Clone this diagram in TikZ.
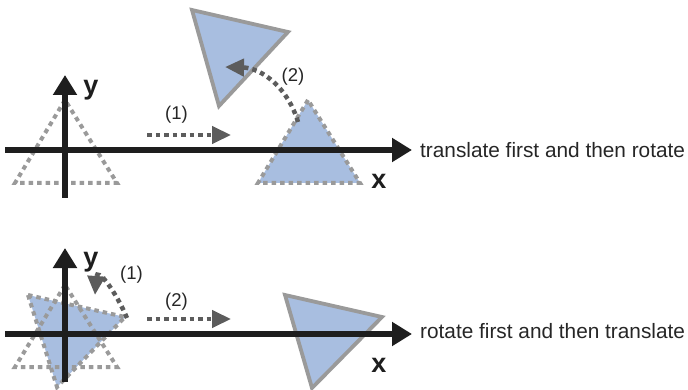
\documentclass[tikz,border=0pt]{standalone}
\usepackage{fontspec}
\setmainfont{Liberation Sans}
\usetikzlibrary{arrows.meta}
\definecolor{axisc}{HTML}{1E1E1E}
\definecolor{tribl}{HTML}{A8BEE0}
\definecolor{trigr}{HTML}{9A9A9A}
\definecolor{arrc}{HTML}{5C5C5C}
\definecolor{txtc}{HTML}{262626}
\begin{document}
\begin{tikzpicture}[x=1pt,y=-1pt,
  axisline/.style={draw=axisc,line width=5.5pt,-{Triangle[length=20pt,width=23pt]}},
  ghost/.style={draw=trigr,line width=4pt,dash pattern=on 4.5pt off 4pt,line join=miter},
  ghostblue/.style={ghost,fill=tribl},
  solidtri/.style={draw=trigr,line width=3.8pt,fill=tribl,line join=miter},
  movearrow/.style={draw=arrc,line width=4.5pt,dash pattern=on 4.5pt off 4pt,-{Triangle[length=19pt,width=17pt]}},
  axlabel/.style={font=\bfseries\fontsize{27}{30}\selectfont,text=axisc,inner sep=0pt},
  steplabel/.style={font=\fontsize{18.5}{20}\selectfont,text=txtc,inner sep=0pt},
  captionlabel/.style={font=\fontsize{20.8}{24}\selectfont,text=txtc,inner sep=0pt,anchor=base west}]

\useasboundingbox (0,0) rectangle (688,390);

% ---------- top: translate first and then rotate ----------
\draw[ghost] (65,100) -- (15,183) -- (117,183) -- cycle;
\draw[ghostblue] (308,100) -- (258,183) -- (360,183) -- cycle;
\draw[solidtri] (192,10) -- (288,32) -- (219,106) -- cycle;

\coordinate (ta1s) at (147,135);
\coordinate (ta1e) at (231,135);
\draw[movearrow] (ta1s) -- (ta1e);
\node[steplabel] (tl1) at (176.5,115) {(1)};

\coordinate (ta2s) at (298,122);
\coordinate (ta2e) at (225,67);
\draw[movearrow] (ta2s) .. controls (288,88) and (262,68) .. (ta2e);
\node[steplabel] (tl2) at (293,77) {(2)};

\coordinate (txs) at (5,150);
\coordinate (txe) at (412,150);
\coordinate (tys) at (65,198);
\coordinate (tye) at (65,75);
\draw[axisline] (txs) -- (txe);
\draw[axisline] (tys) -- (tye);
\node[axlabel] (ty) at (91,90) {y};
\node[axlabel] (tx) at (379,181) {x};
\node[captionlabel] (tcap) at (420,158) {translate first and then rotate};

% ---------- bottom: rotate first and then translate ----------
\draw[ghostblue] (28,295) -- (125,317) -- (57,387) -- cycle;
\draw[ghost] (65,285) -- (15,367) -- (117,367) -- cycle;
\draw[solidtri] (285,295) -- (382,317) -- (312,388) -- cycle;

\coordinate (ba1s) at (127,318);
\coordinate (ba1e) at (95,295);
\draw[movearrow] (ba1s) .. controls (116,292) and (97,266) .. (ba1e);
\node[steplabel] (bl1) at (131.5,275) {(1)};

\coordinate (ba2s) at (147,319);
\coordinate (ba2e) at (231,319);
\draw[movearrow] (ba2s) -- (ba2e);
\node[steplabel] (bl2) at (176.5,301.5) {(2)};

\coordinate (bxs) at (5,334);
\coordinate (bxe) at (412,334);
\coordinate (bys) at (65,382);
\coordinate (bye) at (65,248);
\draw[axisline] (bxs) -- (bxe);
\draw[axisline] (bys) -- (bye);
\node[axlabel] (by) at (91,262) {y};
\node[axlabel] (bx) at (379,365) {x};
\node[captionlabel] (bcap) at (420,338) {rotate first and then translate};
\end{tikzpicture}
\end{document}
